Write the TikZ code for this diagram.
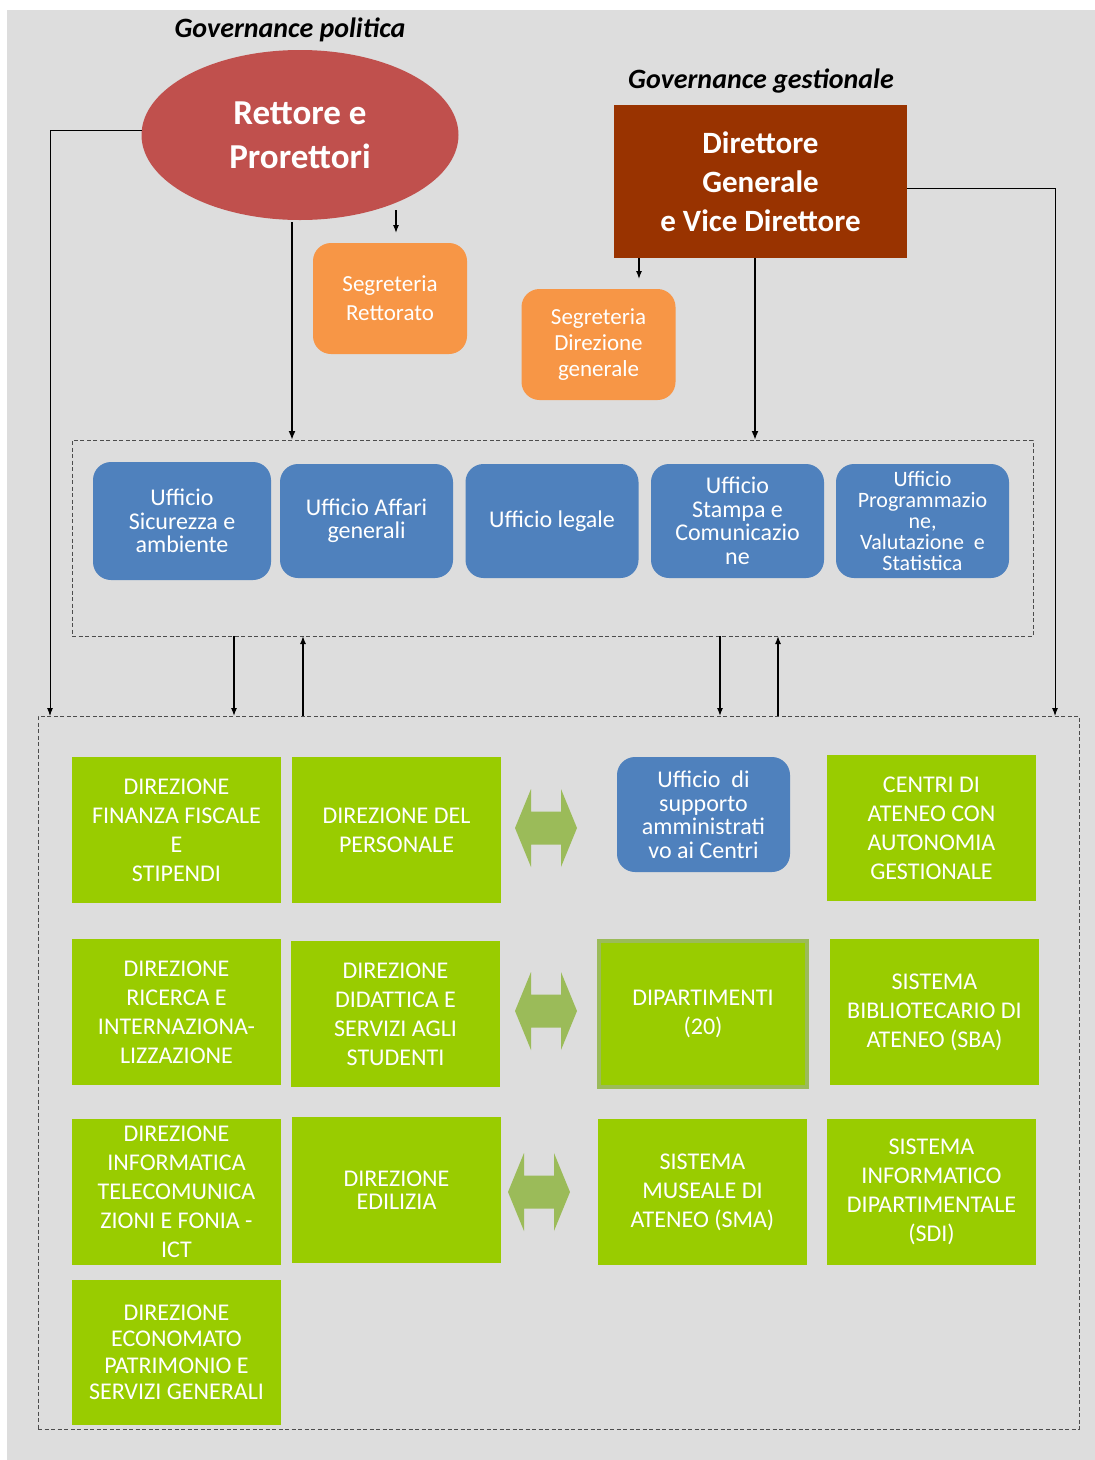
\documentclass[tikz,border=0pt]{standalone}
\usepackage{fontspec}
\setmainfont{Carlito}
\usetikzlibrary{shapes.geometric,arrows.meta,calc}
\definecolor{bg}{HTML}{DDDDDD}
\definecolor{rettc}{HTML}{C0504D}
\definecolor{dirc}{HTML}{993300}
\definecolor{orng}{HTML}{F79646}
\definecolor{blu}{HTML}{4F81BD}
\definecolor{grn}{HTML}{99CC00}
\definecolor{darr}{HTML}{9BBB59}
\begin{document}
\begin{tikzpicture}[x=1pt,y=-1pt,
  every node/.style={inner sep=0pt, outer sep=0pt, align=center, text=white},
  gbox/.style={fill=grn, minimum width=209pt, minimum height=146pt, font=\fontsize{24}{29}\selectfont},
  bbox/.style={fill=blu, rounded corners=18pt, minimum width=173pt, minimum height=114pt, font=\fontsize{24}{23.5}\selectfont},
  obox/.style={fill=orng, rounded corners=18pt, minimum width=154pt, minimum height=111pt},
  title/.style={text=black, font=\bfseries\itshape\fontsize{28}{32}\selectfont},
  arr/.style={-{Latex[length=9pt,width=7pt]}, line width=1.8pt},
  marr/.style={-{Latex[length=8pt,width=6pt]}, line width=1.3pt},
  tarr/.style={-{Latex[length=8pt,width=6pt]}, line width=1pt},
  dbox/.style={draw=black!70, dash pattern=on 4pt off 2.5pt, line width=1pt},
  dblarrow/.pic={\fill[darr] (-31,0) -- (-15,-39) -- (-15,-16.5) -- (15,-16.5) -- (15,-39) -- (31,0) -- (15,39) -- (15,16.5) -- (-15,16.5) -- (-15,39) -- cycle;}
]
\useasboundingbox (0,0) rectangle (1095,1460);
\fill[white] (0,0) rectangle (1095,1460);
\fill[bg] (7,10) rectangle (1095,1460);

% dashed containers
\node[dbox, minimum width=961pt, minimum height=196pt] (box1) at (552.5,538) {};
\node[dbox, minimum width=1041pt, minimum height=713pt] (box2) at (558.5,1072.5) {};

% governance
\node[title] (gp) at (290,30) {Governance politica};
\node[ellipse, fill=rettc, minimum width=317pt, minimum height=170pt, font=\bfseries\fontsize{35}{44}\selectfont] (rett) at (300,135) {\raisebox{-2pt}{\parbox{200pt}{\centering Rettore e\\Prorettori}}};
\node[title] (gg) at (761,81) {Governance gestionale};
\node[fill=dirc, minimum width=293pt, minimum height=153pt, font=\bfseries\fontsize{31}{39}\selectfont] (dg) at (760.5,181.5) {Direttore\\Generale\\e Vice Direttore};
\node[obox, font=\fontsize{23}{29}\selectfont] (sr) at (390,298.5) {Segreteria\\Rettorato};
\node[obox, font=\fontsize{23}{26}\selectfont] (sd) at (598.5,344.5) {Segreteria\\Direzione\\generale};

% uffici
\node[bbox, minimum width=178pt, minimum height=118pt] (u1) at (182,521) {Ufficio\\Sicurezza e\\ambiente};
\node[bbox] (u2) at (366.5,521) {Ufficio Affari\\generali};
\node[bbox] (u3) at (552,521) {Ufficio legale};
\node[bbox] (u4) at (737.5,521) {Ufficio\\Stampa e\\Comunicazio\\ne};
\node[bbox, font=\fontsize{22}{21}\selectfont] (u5) at (922.5,521) {Ufficio\\Programmazio\\ne,\\Valutazione\ \ e\\Statistica};

% direzioni e centri
\node[gbox] (g1) at (176.5,830) {DIREZIONE\\FINANZA FISCALE\\E\\STIPENDI};
\node[gbox] (g2) at (396.5,830) {DIREZIONE DEL\\PERSONALE};
\node[bbox, minimum height=115pt] (us) at (703.5,814.5) {Ufficio\ \ di\\supporto\\amministrati\\vo ai Centri};
\node[gbox] (g3) at (931.5,828) {CENTRI DI\\ATENEO CON\\AUTONOMIA\\GESTIONALE};
\node[gbox] (g4) at (176.5,1012) {DIREZIONE\\RICERCA E\\INTERNAZIONA-\\LIZZAZIONE};
\node[gbox] (g5) at (395.5,1014) {DIREZIONE\\DIDATTICA E\\SERVIZI AGLI\\STUDENTI};
\node[gbox, draw=darr, line width=4pt, minimum width=208pt, minimum height=146pt] (dip) at (703,1014) {DIPARTIMENTI\\(20)};
\node[gbox] (g6) at (934.5,1012) {SISTEMA\\BIBLIOTECARIO DI\\ATENEO (SBA)};
\node[gbox] (g7) at (176.5,1192) {DIREZIONE\\INFORMATICA\\TELECOMUNICA\\ZIONI E FONIA -\\ICT};
\node[gbox, font=\fontsize{24}{23.5}\selectfont] (g8) at (396.5,1190) {DIREZIONE\\EDILIZIA};
\node[gbox] (g9) at (702.5,1192) {SISTEMA\\MUSEALE DI\\ATENEO (SMA)};
\node[gbox] (g10) at (931.5,1192) {SISTEMA\\INFORMATICO\\DIPARTIMENTALE\\(SDI)};
\node[gbox, minimum height=145pt, font=\fontsize{24}{26.5}\selectfont] (g11) at (176.5,1352.5) {DIREZIONE\\ECONOMATO\\PATRIMONIO E\\SERVIZI GENERALI};

% double arrows
\pic at (546,828) {dblarrow};
\pic at (546,1011) {dblarrow};
\pic at (539,1192) {dblarrow};

% connectors
\coordinate (lcol) at ([xshift=12pt]box2.north west);
\coordinate (rcol) at ([xshift=-24pt]box2.north east);
\draw[tarr] ([yshift=5pt]rett.west) -| (lcol);
\draw[tarr] ([yshift=-6.5pt]dg.east) -| (rcol);
\coordinate (rs) at ([xshift=-8pt, yshift=-2pt]rett.south);
\draw[arr] (rs) -- (rs |- box1.north);
\coordinate (ds) at ([xshift=-5.5pt]dg.south);
\draw[arr] (ds) -- (ds |- box1.north);
\draw[marr] ([shift={(6pt,33pt)}]sr.north) -- ([shift={(6pt,10pt)}]sr.north);
\draw[marr] ([xshift=25pt]dg.south west) -- ([xshift=25pt, yshift=-21pt]dg.south west);
\coordinate (a1) at ([xshift=162pt]box1.south west);
\coordinate (a2) at ([xshift=231pt]box1.south west);
\coordinate (a3) at ([xshift=648pt]box1.south west);
\coordinate (a4) at ([xshift=706pt]box1.south west);
\draw[marr] (a1) -- (a1 |- box2.north);
\draw[marr] (a2 |- box2.north) -- (a2);
\draw[marr] (a3) -- (a3 |- box2.north);
\draw[marr] (a4 |- box2.north) -- (a4);
\end{tikzpicture}
\end{document}
